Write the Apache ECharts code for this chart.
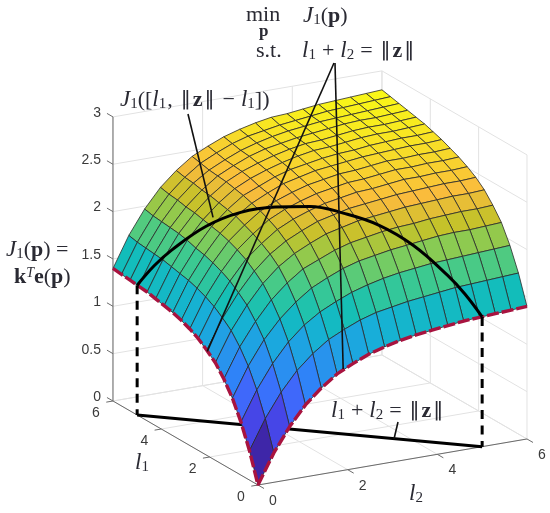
<!DOCTYPE html>
<html>
<head>
<meta charset="utf-8">
<style>html,body{margin:0;padding:0;background:#fff}#surface{width:550px;height:513px}</style>
<script src="https://cdn.jsdelivr.net/npm/echarts@6/dist/echarts.min.js"></script>
</head>
<body>
<div id="surface"></div>
<script>
// grid of the surface, 18 lines per side
var l1Grid = [0,0.353,0.706,1.059,1.412,1.765,2.118,2.471,2.824,3.176,3.529,3.882,4.235,4.588,4.941,5.294,5.647,6];
var l2Grid = [0,0.353,0.706,1.059,1.412,1.765,2.118,2.471,2.824,3.176,3.529,3.882,4.235,4.588,4.941,5.294,5.647,6];
// J1, rows are l1, columns are l2
var J1 = [
[0,0.31,0.56,0.76,0.91,1.03,1.11,1.18,1.23,1.27,1.30,1.32,1.34,1.36,1.37,1.38,1.39,1.40],
[0.31,0.62,0.87,1.07,1.22,1.34,1.42,1.49,1.54,1.57,1.60,1.62,1.64,1.66,1.67,1.68,1.69,1.70],
[0.56,0.87,1.12,1.32,1.47,1.58,1.66,1.73,1.78,1.82,1.85,1.87,1.89,1.90,1.91,1.92,1.93,1.94],
[0.76,1.07,1.32,1.51,1.66,1.78,1.86,1.93,1.98,2.01,2.04,2.06,2.08,2.10,2.11,2.11,2.12,2.13],
[0.91,1.22,1.46,1.66,1.81,1.93,2.00,2.07,2.12,2.15,2.18,2.20,2.21,2.23,2.24,2.25,2.25,2.26],
[1.03,1.34,1.58,1.78,1.93,2.04,2.12,2.19,2.23,2.27,2.29,2.31,2.33,2.34,2.35,2.36,2.36,2.37],
[1.11,1.42,1.66,1.86,2.01,2.12,2.20,2.27,2.31,2.35,2.37,2.39,2.41,2.42,2.43,2.44,2.44,2.45],
[1.18,1.49,1.73,1.93,2.07,2.19,2.27,2.33,2.38,2.41,2.44,2.45,2.47,2.49,2.49,2.50,2.50,2.51],
[1.23,1.54,1.78,1.98,2.12,2.24,2.32,2.38,2.43,2.46,2.49,2.50,2.52,2.54,2.54,2.55,2.55,2.56],
[1.27,1.58,1.82,2.02,2.16,2.28,2.36,2.42,2.47,2.50,2.53,2.54,2.56,2.58,2.58,2.59,2.59,2.60],
[1.30,1.61,1.85,2.05,2.20,2.31,2.39,2.46,2.50,2.54,2.56,2.58,2.60,2.61,2.62,2.63,2.63,2.64],
[1.32,1.63,1.87,2.07,2.22,2.34,2.41,2.48,2.53,2.56,2.59,2.61,2.62,2.64,2.65,2.66,2.66,2.67],
[1.34,1.65,1.90,2.09,2.24,2.36,2.44,2.50,2.55,2.59,2.62,2.63,2.65,2.67,2.68,2.68,2.69,2.70],
[1.36,1.67,1.92,2.11,2.26,2.38,2.46,2.52,2.57,2.61,2.64,2.65,2.67,2.69,2.70,2.70,2.71,2.72],
[1.37,1.68,1.93,2.12,2.27,2.39,2.47,2.54,2.59,2.62,2.65,2.67,2.69,2.71,2.72,2.72,2.73,2.74],
[1.38,1.69,1.94,2.14,2.29,2.40,2.48,2.55,2.60,2.64,2.67,2.69,2.71,2.72,2.73,2.74,2.75,2.76],
[1.39,1.70,1.95,2.15,2.30,2.42,2.50,2.57,2.62,2.65,2.68,2.70,2.72,2.74,2.75,2.76,2.77,2.78],
[1.40,1.72,1.97,2.17,2.32,2.44,2.52,2.59,2.64,2.68,2.71,2.72,2.74,2.76,2.77,2.78,2.79,2.80]
];
// the constraint l1 + l2 = ||z|| on the surface
var arcL1 = [0,0.25,0.5,1,1.5,2,2.5,3,3.5,4,4.5,4.75,5];
var arcJ = [1.37,1.595,1.775,2.06,2.24,2.33,2.37,2.33,2.24,2.06,1.775,1.595,1.37];
var normZ = 5;

var l1Ticks = [0,2,4,6];
var l2Ticks = [0,2,4,6];
var zTicks = [0,0.5,1,1.5,2,2.5,3];
var zLabels = ['0','0.5','1','1.5','2','2.5','3'];

var parulaStops = [[62,38,168],[70,60,222],[71,91,249],[50,124,252],[39,150,235],[24,173,219],[18,190,185],[63,202,142],[129,204,89],[197,194,42],[250,187,61],[247,218,42],[249,251,21]];

// oblique view of the box, returns values on the two hidden axes
function project(l1, l2, z) {
    return [258 + 44.83 * l2 - 24.17 * l1, 485 - 7.67 * l2 - 14 * l1 - 94.7 * z];
}

function parula(t) {
    t = Math.max(0, Math.min(1, t)) * (parulaStops.length - 1);
    var k = Math.min(Math.floor(t), parulaStops.length - 2), f = t - k;
    var a = parulaStops[k], b = parulaStops[k + 1];
    return 'rgb(' + Math.round(a[0] + (b[0] - a[0]) * f) + ',' + Math.round(a[1] + (b[1] - a[1]) * f) + ',' + Math.round(a[2] + (b[2] - a[2]) * f) + ')';
}

// far cells first so the near ones paint over them
var cells = [];
for (var i = l1Grid.length - 2; i >= 0; i--) {
    for (var j = l2Grid.length - 2; j >= 0; j--) {
        cells.push([i, j]);
    }
}

// light lines of the walls and the floor
var gridSegs = [];
l2Ticks.forEach(function (t) {
    gridSegs.push(project(0, t, 0).concat(project(6, t, 0)));
    gridSegs.push(project(6, t, 0).concat(project(6, t, 3)));
});
l1Ticks.forEach(function (t) {
    gridSegs.push(project(t, 0, 0).concat(project(t, 6, 0)));
    gridSegs.push(project(t, 6, 0).concat(project(t, 6, 3)));
});
zTicks.forEach(function (t) {
    gridSegs.push(project(6, 0, t).concat(project(6, 6, t)));
    gridSegs.push(project(6, 6, t).concat(project(0, 6, t)));
});

// dark axes and ticks
var axisSegs = [
    project(6, 0, 0).concat(project(6, 0, 3)),
    project(0, 0, 0).concat(project(6, 0, 0)),
    project(0, 0, 0).concat(project(0, 6, 0))
];
zTicks.forEach(function (t) { axisSegs.push(project(6, 0, t).concat(project(6.25, 0, t))); });
l1Ticks.forEach(function (t) { axisSegs.push(project(t, 0, 0).concat(project(t, -0.15, 0))); });
l2Ticks.forEach(function (t) { axisSegs.push(project(0, t, 0).concat(project(-0.25, t, 0))); });

var tickTexts = [];
zTicks.forEach(function (t, k) {
    var p = project(6, 0, t);
    tickTexts.push([p[0] - 12, p[1] - 4, zLabels[k], 'right']);
});
l1Ticks.forEach(function (t) {
    var p = project(t, 0, 0);
    tickTexts.push([p[0] - 17, p[1] + 12, String(t), 'center']);
});
l2Ticks.forEach(function (t) {
    var p = project(0, t, 0);
    tickTexts.push([p[0] + 15, p[1] + 16, String(t), 'center']);
});

// red edge of the surface, along l1 then along l2
var edge = [];
for (var a = l1Grid.length - 1; a >= 0; a--) edge.push(project(l1Grid[a], 0, J1[a][0]));
for (var b = 1; b < l2Grid.length; b++) edge.push(project(0, l2Grid[b], J1[0][b]));

var arc = arcL1.map(function (v, k) { return project(v, normZ - v, arcJ[k]); });

function lineSeries(data, color, width, z, dash, smooth) {
    return {
        type: 'line', data: data, symbol: 'none', silent: true, z: z, smooth: smooth || false,
        lineStyle: { color: color, width: width, type: dash || 'solid', cap: 'butt' }
    };
}

function segSeries(data, color, width, z) {
    return {
        type: 'custom', data: data, silent: true, z: z,
        renderItem: function (params, api) {
            var p = api.coord([api.value(0), api.value(1)]);
            var q = api.coord([api.value(2), api.value(3)]);
            return {
                type: 'line',
                shape: { x1: p[0], y1: p[1], x2: q[0], y2: q[1] },
                style: { stroke: color, lineWidth: width, fill: null }
            };
        }
    };
}

var ink = '#2a2a33';
var rich = {
    i: { fontFamily: 'Liberation Serif', fontStyle: 'italic', fontSize: 23, fill: ink },
    r: { fontFamily: 'Liberation Serif', fontSize: 22, fill: ink },
    o: { fontFamily: 'Liberation Serif', fontSize: 22, fill: ink, padding: [0, 6, 0, 6] },
    c: { fontFamily: 'Liberation Serif', fontSize: 22, fill: ink, padding: [0, 6, 0, 1] },
    n: { fontFamily: 'DejaVu Sans', fontSize: 20, fill: ink, padding: [0, 2, 0, 2] },
    b: { fontFamily: 'Liberation Serif', fontWeight: 'bold', fontSize: 22, fill: ink },
    s: { fontFamily: 'Liberation Serif', fontSize: 15, fill: ink, padding: [9, 0, 0, 0] },
    u: { fontFamily: 'Liberation Serif', fontStyle: 'italic', fontSize: 14, fill: ink, padding: [0, 0, 8, 0] }
};
var constraint = '{i|l}{s|1}{o|+}{i|l}{s|2}{o|=}{n|‖}{b|z}{n|‖}';

function label(x, y, text) {
    return { type: 'text', x: x, y: y, z: 50, silent: true, style: { text: text, rich: rich, verticalAlign: 'middle' } };
}

var chart = echarts.init(document.getElementById('surface'));
chart.setOption({
    animation: false,
    grid: { left: 0, right: 0, top: 0, bottom: 0 },
    xAxis: { type: 'value', min: 0, max: 550, show: false },
    yAxis: { type: 'value', min: 0, max: 513, inverse: true, show: false },
    graphic: { elements: [
        label(246, 15, '{r|min}'),
        { type: 'text', x: 259, y: 32, z: 50, silent: true, style: { text: 'p', fontFamily: 'Liberation Serif', fontWeight: 'bold', fontSize: 17, fill: ink, verticalAlign: 'middle' } },
        label(303, 16, '{i|J}{s|1}{r|(}{b|p}{r|)}'),
        label(256, 51, '{r|s.t.}'),
        label(302, 51, constraint),
        label(120, 100, '{i|J}{s|1}{r|([}{i|l}{s|1}{c|,}{n|‖}{b|z}{n|‖}{o|−}{i|l}{s|1}{r|])}'),
        label(6, 250, '{i|J}{s|1}{r|(}{b|p}{r|) =}'),
        label(14, 277, '{b|k}{u|T}{b|e}{r|(}{b|p}{r|)}'),
        label(331, 411, constraint),
        label(135, 463, '{i|l}{s|1}'),
        label(409, 494, '{i|l}{s|2}')
    ] },
    series: [
        segSeries(gridSegs, '#e2e2e2', 1, 1),
        segSeries(axisSegs, '#6a6a6a', 1, 2),
        {
            type: 'custom', data: tickTexts, silent: true, z: 3,
            renderItem: function (params, api) {
                var p = api.coord([api.value(0), api.value(1)]);
                var t = tickTexts[params.dataIndex];
                return {
                    type: 'text', x: p[0], y: p[1],
                    style: { text: t[2], align: t[3], verticalAlign: 'middle', fontFamily: 'Liberation Sans', fontSize: 14, fill: '#3a3a3a' }
                };
            }
        },
        // floor line goes under the surface, custom so the series order keeps it there
        segSeries([project(normZ, 0, 0).concat(project(0, normZ, 0))], '#000', 3, 4),
        {
            type: 'custom', data: cells, silent: true, z: 5,
            renderItem: function (params, api) {
                var i = api.value(0), j = api.value(1);
                var pts = [[i, j], [i + 1, j], [i + 1, j + 1], [i, j + 1]].map(function (c) {
                    return api.coord(project(l1Grid[c[0]], l2Grid[c[1]], J1[c[0]][c[1]]));
                });
                return {
                    type: 'polygon',
                    shape: { points: pts },
                    style: { fill: parula(J1[i][j] / 2.8), stroke: '#2a2a2a', lineWidth: 0.8 }
                };
            }
        },
        lineSeries(edge, '#a8133f', 3.4, 6, [12, 3]),
        lineSeries(arc, '#000', 3, 7, 'solid', 0.4),
        lineSeries([project(5, 0, 1.37), project(5, 0, 0)], '#000', 3, 7, [9, 6.5]),
        lineSeries([project(0, 5, 1.37), project(0, 5, 0)], '#000', 3, 7, [9, 6.5]),
        lineSeries([[188, 114], project(3.9, 1.1, 2.16)], '#111', 1.6, 7),
        lineSeries([[334, 63], project(2.1, 0, 1.1)], '#111', 1.6, 7),
        lineSeries([[335, 63], project(0, 1.9, 1.07)], '#111', 1.6, 7),
        lineSeries([[398, 422], [394, 439]], '#111', 1.6, 7)
    ]
});
</script>
</body>
</html>
